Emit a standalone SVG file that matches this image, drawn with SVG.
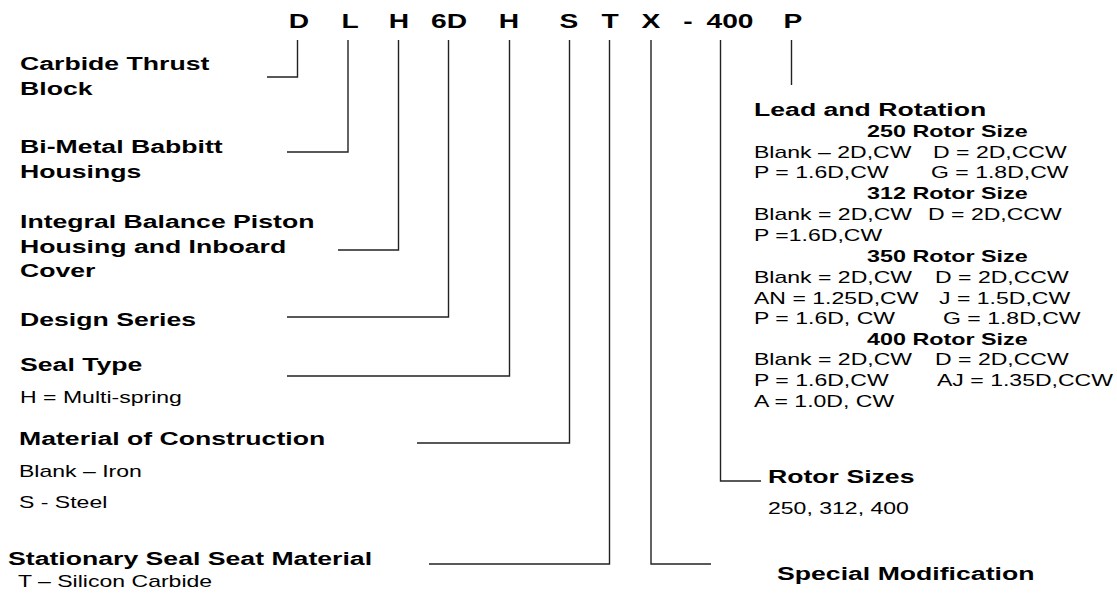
<svg xmlns="http://www.w3.org/2000/svg" width="1117" height="593" viewBox="0 0 1117 593">
<style>
text { font-family: "Liberation Sans", Arial, sans-serif; fill: #000; }
.hd { font-weight: bold; font-size: 19.6px; text-anchor: middle; }
.b { font-weight: bold; font-size: 18.5px; }
.sb { font-weight: bold; font-size: 16.2px; }
.r { font-size: 16px; }
.conn path { fill: none; stroke: #222; stroke-width: 1.4; }
</style>
<rect width="1117" height="593" fill="#fff"/>
<g id="model-code">
<text class="hd" transform="translate(299 28) scale(1.44 1)">D</text>
<text class="hd" transform="translate(350 28) scale(1.44 1)">L</text>
<text class="hd" transform="translate(399 28) scale(1.44 1)">H</text>
<text class="hd" transform="translate(449 28) scale(1.44 1)">6D</text>
<text class="hd" transform="translate(509 28) scale(1.44 1)">H</text>
<text class="hd" transform="translate(569 28) scale(1.44 1)">S</text>
<text class="hd" transform="translate(610 28) scale(1.44 1)">T</text>
<text class="hd" transform="translate(651 28) scale(1.44 1)">X</text>
<text class="hd" transform="translate(688 28) scale(1.44 1)">-</text>
<text class="hd" transform="translate(730 28) scale(1.44 1)">400</text>
<text class="hd" transform="translate(793 28) scale(1.44 1)">P</text>
</g>
<g id="connectors" class="conn">
<path d="M297.5 40V77H267"/>
<path d="M348 40V152H287"/>
<path d="M398.5 40V250H338"/>
<path d="M448.5 40V317H287"/>
<path d="M509.5 40V376H287"/>
<path d="M569.5 40V443H417"/>
<path d="M609.5 40V564H429"/>
<path d="M651 40V564H711"/>
<path d="M720.5 40V481H761"/>
<path d="M791.5 40V85"/>
</g>
<g id="node-carbide-thrust-block">
<text class="b" transform="translate(20 70) scale(1.44 1)">Carbide Thrust</text>
<text class="b" transform="translate(20 95) scale(1.44 1)">Block</text>
</g>
<g id="node-bi-metal-babbitt">
<text class="b" transform="translate(20 153) scale(1.44 1)">Bi-Metal Babbitt</text>
<text class="b" transform="translate(20 178) scale(1.44 1)">Housings</text>
</g>
<g id="node-integral-balance-piston">
<text class="b" transform="translate(20 228) scale(1.44 1)">Integral Balance Piston</text>
<text class="b" transform="translate(20 253) scale(1.44 1)">Housing and Inboard</text>
<text class="b" transform="translate(20 277) scale(1.44 1)">Cover</text>
</g>
<g id="node-design-series">
<text class="b" transform="translate(20 326) scale(1.44 1)">Design Series</text>
</g>
<g id="node-seal-type">
<text class="b" transform="translate(20 371) scale(1.44 1)">Seal Type</text>
<text class="r" transform="translate(20 403) scale(1.44 1)">H = Multi-spring</text>
</g>
<g id="node-material">
<text class="b" transform="translate(19 445) scale(1.44 1)">Material of Construction</text>
<text class="r" transform="translate(19 477) scale(1.44 1)">Blank – Iron</text>
<text class="r" transform="translate(19 508) scale(1.44 1)">S - Steel</text>
</g>
<g id="node-stationary-seat">
<text class="b" transform="translate(8 565) scale(1.44 1)">Stationary Seal Seat Material</text>
<text class="r" transform="translate(18 587) scale(1.44 1)">T – Silicon Carbide</text>
</g>
<g id="node-special-modification">
<text class="b" transform="translate(777 580) scale(1.44 1)">Special Modification</text>
</g>
<g id="node-rotor-sizes">
<text class="b" transform="translate(768 483) scale(1.44 1)">Rotor Sizes</text>
<text class="r" transform="translate(768 514) scale(1.44 1)">250, 312, 400</text>
</g>
<g id="node-lead-rotation">
<text class="b" transform="translate(754 116) scale(1.44 1)">Lead and Rotation</text>
<text class="sb" transform="translate(867 137) scale(1.44 1)">250 Rotor Size</text>
<text class="r" transform="translate(754 157.5) scale(1.44 1)">Blank – 2D,CW</text>
<text class="r" transform="translate(933 157.5) scale(1.44 1)">D = 2D,CCW</text>
<text class="r" transform="translate(754 178) scale(1.44 1)">P = 1.6D,CW</text>
<text class="r" transform="translate(931 178) scale(1.44 1)">G = 1.8D,CW</text>
<text class="sb" transform="translate(867 199) scale(1.44 1)">312 Rotor Size</text>
<text class="r" transform="translate(754 220) scale(1.44 1)">Blank = 2D,CW</text>
<text class="r" transform="translate(928 220) scale(1.44 1)">D = 2D,CCW</text>
<text class="r" transform="translate(754 240.5) scale(1.44 1)">P =1.6D,CW</text>
<text class="sb" transform="translate(867 262) scale(1.44 1)">350 Rotor Size</text>
<text class="r" transform="translate(754 283) scale(1.44 1)">Blank = 2D,CW</text>
<text class="r" transform="translate(935 283) scale(1.44 1)">D = 2D,CCW</text>
<text class="r" transform="translate(754 303.5) scale(1.44 1)">AN = 1.25D,CW</text>
<text class="r" transform="translate(939 303.5) scale(1.44 1)">J = 1.5D,CW</text>
<text class="r" transform="translate(754 324) scale(1.44 1)">P = 1.6D, CW</text>
<text class="r" transform="translate(943 324) scale(1.44 1)">G = 1.8D,CW</text>
<text class="sb" transform="translate(867 345) scale(1.44 1)">400 Rotor Size</text>
<text class="r" transform="translate(754 365) scale(1.44 1)">Blank = 2D,CW</text>
<text class="r" transform="translate(935 365) scale(1.44 1)">D = 2D,CCW</text>
<text class="r" transform="translate(754 385.5) scale(1.44 1)">P = 1.6D,CW</text>
<text class="r" transform="translate(937 385.5) scale(1.44 1)">AJ = 1.35D,CCW</text>
<text class="r" transform="translate(754 406.5) scale(1.44 1)">A = 1.0D, CW</text>
</g>
</svg>
